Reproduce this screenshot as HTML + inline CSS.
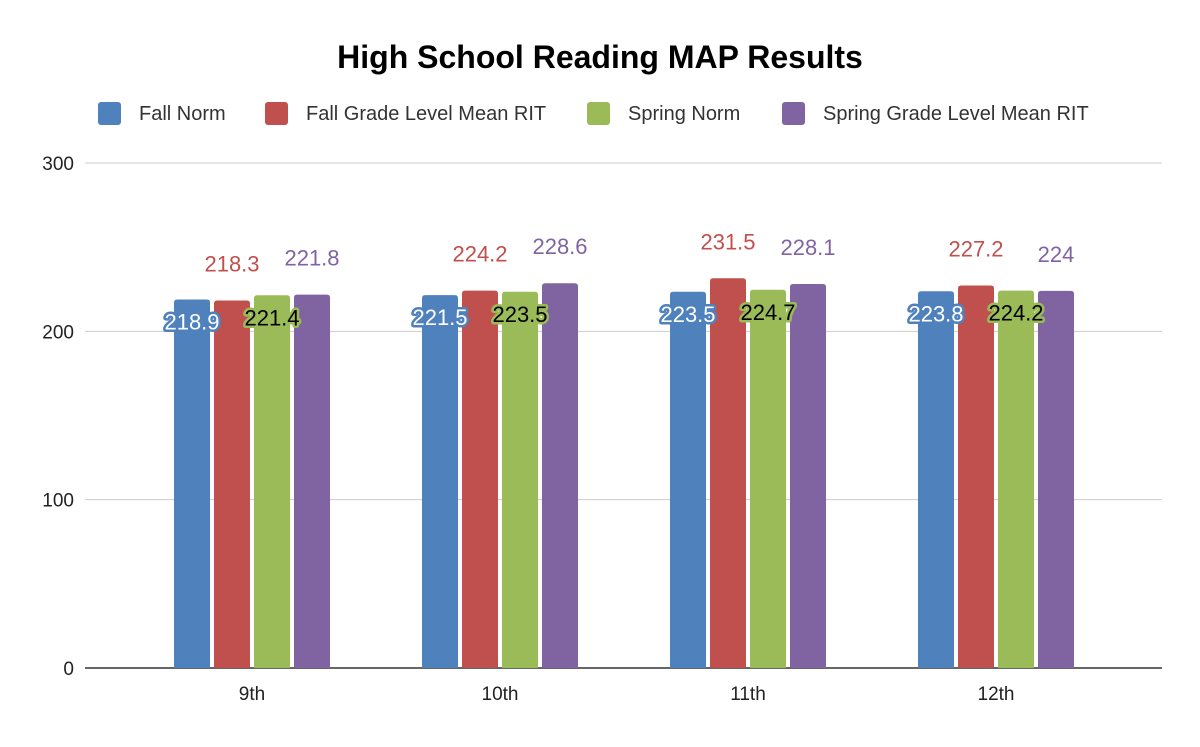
<!DOCTYPE html>
<html><head><meta charset="utf-8"><style>
body{margin:0;background:#fff;font-family:"Liberation Sans",Roboto,sans-serif}
</style></head><body>
<svg id="c" width="1200" height="742" xmlns="http://www.w3.org/2000/svg">
<text x="600" y="68" text-anchor="middle" font-size="32" font-weight="bold" fill="#000">High School Reading MAP Results</text>
<g id="legend"></g>
<g id="grid"></g>
<g id="bars"></g>
<g id="labels"></g>
</svg>
<script>
const categories = ["9th","10th","11th","12th"];
const seriesNames = ["Fall Norm","Fall Grade Level Mean RIT","Spring Norm","Spring Grade Level Mean RIT"];
const fallNorm = [218.9,221.5,223.5,223.8];
const fallMean = [218.3,224.2,231.5,227.2];
const springNorm = [221.4,223.5,224.7,224.2];
const springMean = [221.8,228.6,228.1,224];
const yTicks = [0,100,200,300];
const colors = ["#4f81bd","#c0504d","#9bbb59","#8064a2"];
const series = [fallNorm,fallMean,springNorm,springMean];
const NS="http://www.w3.org/2000/svg";
const x0=85,x1=1162,yBase=668,yTop=163,yMax=300;
const y=v=>yBase-(v/yMax)*(yBase-yTop);
const band=(x1-x0+ -85)/categories.length; // approx 248
const xc=i=>252+i*248;
function mk(tag,attrs,parent){const e=document.createElementNS(NS,tag);for(const k in attrs)e.setAttribute(k,attrs[k]);parent.appendChild(e);return e;}
const grid=document.getElementById('grid');
yTicks.forEach(t=>{
  const l=mk('line',{x1:x0,x2:x1,y1:y(t),y2:y(t),stroke:t===0?'#333':'#ccc','stroke-width':t===0?1.5:1},grid);
  
  
  const tx=mk('text',{x:74,y:y(t)+7,'text-anchor':'end','font-size':19,fill:'#222'},grid);
  tx.textContent=t;
  
  
});
const bars=document.getElementById('bars'),labels=document.getElementById('labels');
categories.forEach((c,i)=>{
  const t=mk('text',{x:xc(i),y:700,'text-anchor':'middle','font-size':19,fill:'#222'},grid);
  t.textContent=c;
  
  
  series.forEach((s,j)=>{
    const v=s[i],bx=xc(i)-78+j*40,bt=y(v);
    const r=mk('path',{d:`M${bx},${yBase}V${bt+3}Q${bx},${bt} ${bx+3},${bt}H${bx+33}Q${bx+36},${bt} ${bx+36},${bt+3}V${yBase}Z`,fill:colors[j]},bars);
    
    
    const cx=bx+18;
    let lb;
    if(j===1||j===3){
      lb=mk('text',{x:cx,y:bt-29,'text-anchor':'middle','font-size':22,fill:colors[j]},labels);
    }else{
      lb=mk('text',{x:cx,y:bt+30,'text-anchor':'middle','font-size':22,fill:j===0?'#fff':'#000',stroke:colors[j],'stroke-width':5,'paint-order':'stroke','stroke-linejoin':'round'},labels);
    }
    lb.textContent=v;
    
    
  });
});
const leg=document.getElementById('legend');
const lx=[98,265,587,782];
seriesNames.forEach((n,j)=>{
  const r=mk('rect',{x:lx[j],y:102,width:23,height:23,rx:3,fill:colors[j]},leg);
  
  
  const t=mk('text',{x:lx[j]+41,y:120,'font-size':20,fill:'#333'},leg);
  t.textContent=n;
  
  
});
</script>
</body></html>
